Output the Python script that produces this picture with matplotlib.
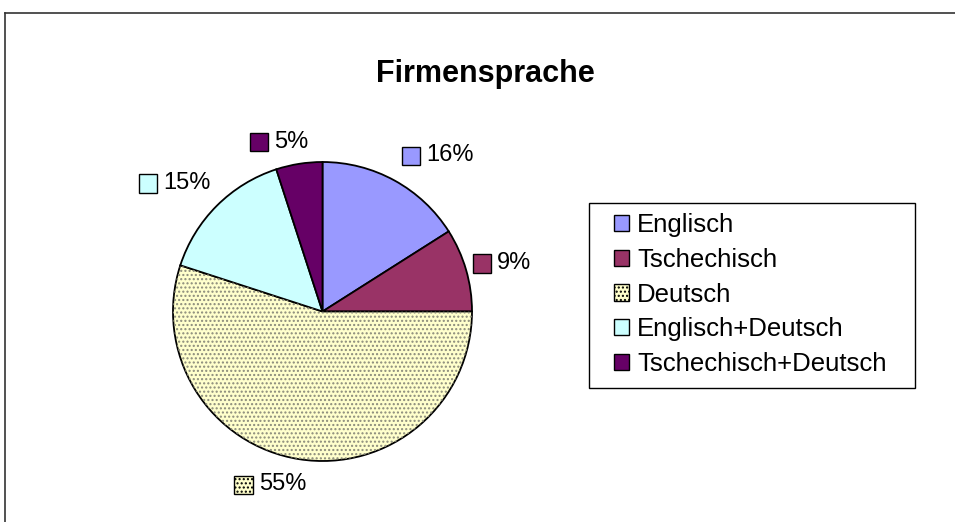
import numpy as np
import matplotlib
matplotlib.use("Agg")
import matplotlib.pyplot as plt
from matplotlib.patches import Rectangle, Wedge
from matplotlib.lines import Line2D
from matplotlib.offsetbox import DrawingArea, TextArea, HPacker, AnnotationBbox

plt.rcParams['font.family'] = ['Liberation Sans', 'DejaVu Sans']
plt.rcParams['hatch.linewidth'] = 1.0

# --------------------------
# DATA
# --------------------------
title = "Firmensprache"
categories = ["Englisch", "Tschechisch", "Deutsch", "Englisch+Deutsch", "Tschechisch+Deutsch"]
shares = [16, 9, 55, 15, 5]
colors = ["#9999FF", "#993366", "#FFFFCC", "#CCFFFF", "#660066"]
hatches = [None, None, "....", None, None]

W, H = 955, 522
fig = plt.figure(figsize=(W / 100, H / 100), dpi=100)

# outer chart frame (only top and left edges visible)
fig.add_artist(Line2D([5 / W, 5 / W], [0, 1 - 13 / H], color="#333333", lw=1.2,
                      transform=fig.transFigure))
fig.add_artist(Line2D([5 / W, 1], [1 - 13 / H, 1 - 13 / H], color="#333333", lw=1.2,
                      transform=fig.transFigure))

fig.text(485 / W, 1 - 74 / H, title, ha="center", va="center",
         fontsize=22, fontweight="bold")

# --------------------------
# PIE
# --------------------------
cx, cy, r = 322.5, 311.5, 149.5
ax = fig.add_axes([(cx - r) / W, (H - cy - r) / H, 2 * r / W, 2 * r / H])
wedges, _ = ax.pie(shares, colors=colors, startangle=90, counterclock=False,
                   radius=1.0, wedgeprops=dict(edgecolor="black", linewidth=1.3))
ax.set_xlim(-1, 1)
ax.set_ylim(-1, 1)
ax.set_aspect("equal")
ax.axis("off")

# dotted pattern overlay
for w, h in zip(wedges, hatches):
    if h:
        ov = Wedge(w.center, w.r, w.theta1, w.theta2, facecolor="none",
                   edgecolor="#8a8a7a", hatch=h, linewidth=0)
        ax.add_patch(ov)

# labels with small colour square, anchored on the side facing the pie
label_dist = [1.18, 1.055, 1.115, 1.155, 1.10]
label_shift = [-4, 1, -6, 0, 4]   # degrees
for w, val, col, h, d, s in zip(wedges, shares, colors, hatches, label_dist, label_shift):
    mid = np.deg2rad((w.theta1 + w.theta2) / 2 + s)
    c, sn = np.cos(mid), np.sin(mid)
    da = DrawingArea(14, 14, 0, 0)
    da.add_artist(Rectangle((0.5, 0), 13, 13, facecolor=col, edgecolor="black",
                            lw=1.0, hatch=h))
    ta = TextArea(f"{val}%", textprops=dict(fontsize=17))
    box = HPacker(children=[da, ta], align="center", pad=0, sep=4)
    ab = AnnotationBbox(box, (d * c, d * sn - 0.008), frameon=False,
                        box_alignment=(0.5 - 0.5 * c, 0.5 - 0.5 * sn),
                        annotation_clip=False, pad=0)
    ax.add_artist(ab)

# --------------------------
# LEGEND
# --------------------------
fig.add_artist(Rectangle((589 / W, 1 - 388 / H), (915 - 589) / W, (388 - 203) / H,
                         transform=fig.transFigure, facecolor="white",
                         edgecolor="black", lw=1.0, zorder=0))
handles = [Rectangle((0, 0), 1, 1, facecolor=c, edgecolor="black", lw=1.0, hatch=h)
           for c, h in zip(colors, hatches)]
leg = fig.legend(handles, categories, loc="upper left",
                 bbox_to_anchor=(614 / W, 1 - 213 / H), borderaxespad=0,
                 fontsize=18.5, frameon=False, borderpad=0,
                 handlelength=0.6, handleheight=0.6, handletextpad=0.3,
                 labelspacing=0.42)

fig.savefig("out.png", dpi=100)
